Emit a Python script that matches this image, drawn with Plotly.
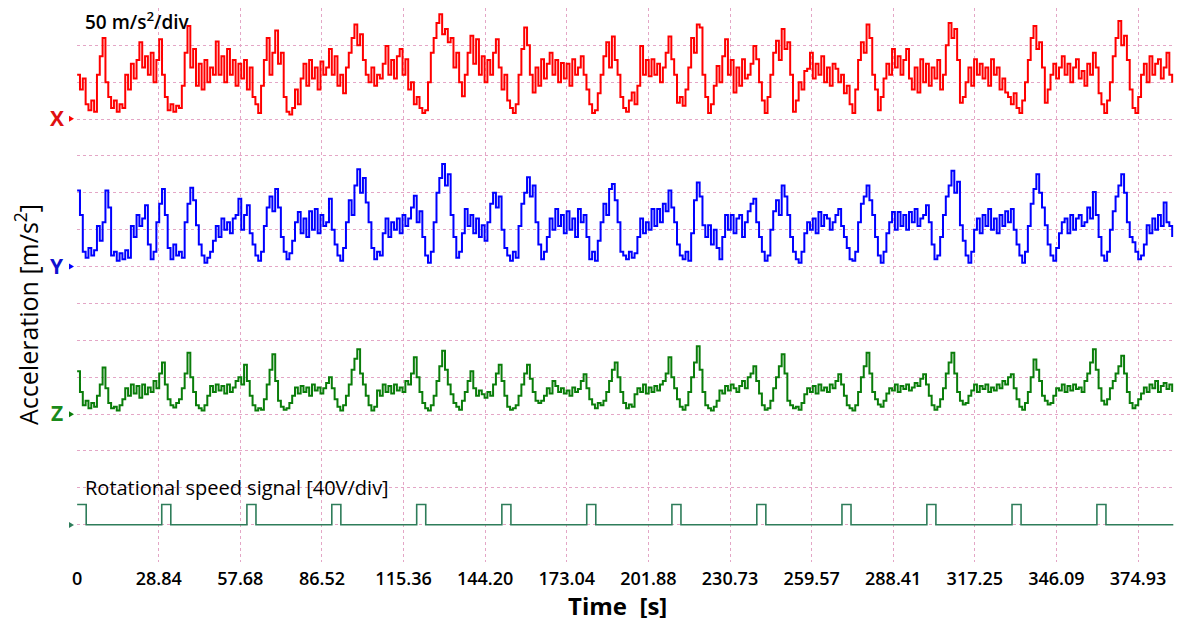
import numpy as np
import plotly.graph_objects as go

# ---------------- data ----------------
DT = 1.0  # sample spacing [s]

accel_x = [
    60, 40, 55, 20, 12, 25, 10, 60, 85, 110,
    50, 30, 15, 25, 10, 20, 15, 60, 40, 75,
    55, 80, 104, 70, 85, 60, 90, 50, 80, 108,
    60, 30, 12, 20, 10, 18, 15, 45, 90, 126,
    70, 95, 45, 75, 40, 80, 50, 70, 60, 105,
    60, 85, 50, 95, 60, 80, 45, 75, 55, 80,
    40, 70, 30, 20, 8, 45, 80, 110, 60, 90,
    120, 75, 90, 30, 10, 6, 15, 40, 20, 55,
    75, 45, 80, 55, 70, 40, 78, 60, 70, 95,
    60, 85, 45, 60, 35, 70, 90, 110, 128, 100,
    115, 80, 60, 50, 70, 45, 60, 55, 75, 99,
    60, 80, 55, 85, 95, 60, 81, 40, 50, 20,
    30, 15, 8, 12, 50, 90, 110, 130, 142, 115,
    122, 104, 110, 70, 90, 50, 31, 60, 90, 113,
    75, 108, 60, 85, 50, 80, 60, 90, 108, 70,
    40, 60, 25, 15, 8, 20, 60, 95, 124, 100,
    60, 36, 70, 45, 81, 55, 75, 90, 60, 80,
    50, 76, 55, 75, 45, 81, 60, 70, 85, 60,
    40, 20, 8, 12, 35, 60, 85, 104, 70, 112,
    80, 60, 30, 15, 10, 25, 36, 20, 45, 99,
    60, 80, 58, 81, 60, 75, 50, 70, 90, 112,
    81, 60, 22, 30, 18, 40, 70, 110, 90, 128,
    124, 60, 30, 8, 20, 45, 72, 50, 85, 108,
    60, 80, 36, 70, 45, 81, 55, 60, 75, 99,
    81, 50, 25, 8, 30, 60, 90, 106, 80, 122,
    95, 104, 60, 10, 25, 50, 40, 65, 68, 90,
    55, 75, 60, 85, 50, 70, 45, 75, 68, 50,
    60, 35, 45, 20, 8, 40, 80, 104, 90, 128,
    110, 60, 40, 12, 30, 55, 75, 60, 95, 70,
    85, 60, 80, 95, 55, 40, 70, 36, 81, 50,
    75, 45, 70, 55, 80, 40, 60, 100, 130, 110,
    122, 80, 22, 30, 50, 70, 45, 81, 60, 75,
    55, 70, 45, 81, 60, 70, 40, 55, 36, 30,
    20, 35, 15, 8, 25, 50, 80, 110, 126, 95,
    104, 70, 22, 40, 60, 75, 55, 70, 85, 60,
    75, 50, 70, 81, 55, 65, 45, 75, 60, 90,
    70, 35, 20, 8, 25, 50, 85, 110, 133, 100,
    113, 80, 40, 15, 8, 30, 60, 75, 50, 85,
    60, 75, 81, 55, 70, 90, 60, 49,
]

accel_y = [
    103, 70, 20, 12, 25, 15, 22, 55, 35, 60,
    103, 80, 15, 20, 8, 18, 10, 22, 12, 55,
    40, 70, 55, 65, 83, 30, 10, 20, 60, 85,
    105, 70, 25, 10, 30, 15, 20, 12, 60, 85,
    107, 90, 56, 30, 15, 5, 12, 20, 35, 55,
    40, 65, 50, 60, 45, 65, 70, 92, 50, 70,
    83, 45, 30, 15, 8, 20, 55, 80, 95, 75,
    105, 80, 40, 20, 10, 18, 35, 60, 74, 45,
    65, 40, 75, 50, 78, 45, 70, 55, 60, 92,
    50, 30, 15, 8, 25, 60, 90, 70, 110, 132,
    100, 120, 87, 60, 25, 10, 20, 15, 45, 65,
    40, 60, 50, 65, 45, 70, 55, 65, 80, 96,
    60, 75, 40, 15, 5, 20, 60, 100, 120, 139,
    110, 125, 70, 40, 12, 20, 45, 78, 55, 70,
    45, 65, 40, 56, 35, 60, 85, 100, 80, 95,
    50, 25, 15, 8, 20, 12, 55, 85, 100, 121,
    95, 110, 60, 30, 10, 20, 40, 65, 50, 78,
    55, 70, 45, 75, 50, 65, 40, 78, 60, 70,
    40, 10, 20, 8, 35, 60, 85, 70, 105, 112,
    90, 60, 20, 15, 10, 20, 12, 18, 40, 65,
    45, 60, 50, 78, 55, 78, 60, 85, 75, 103,
    80, 60, 30, 15, 10, 20, 8, 45, 90, 114,
    95, 56, 40, 56, 30, 50, 25, 10, 40, 70,
    50, 70, 45, 65, 70, 40, 60, 75, 85, 92,
    60, 40, 20, 8, 15, 50, 75, 90, 70, 110,
    95, 70, 40, 20, 10, 5, 20, 45, 60, 50,
    65, 45, 74, 55, 70, 65, 50, 60, 70, 78,
    55, 40, 25, 10, 8, 20, 60, 85, 95, 110,
    90, 70, 40, 15, 5, 20, 45, 60, 74, 50,
    74, 55, 70, 50, 74, 60, 78, 55, 65, 70,
    83, 60, 30, 10, 15, 40, 70, 95, 110, 130,
    100, 115, 56, 35, 15, 5, 20, 50, 65, 45,
    70, 55, 78, 50, 65, 45, 70, 55, 75, 60,
    78, 50, 30, 15, 5, 20, 55, 85, 105, 125,
    100, 80, 56, 30, 15, 8, 25, 45, 60, 65,
    45, 70, 50, 65, 70, 55, 60, 80, 65, 101,
    70, 40, 15, 8, 20, 50, 75, 95, 110, 125,
    100, 60, 40, 33, 20, 10, 15, 30, 56, 45,
    65, 50, 70, 55, 87, 60, 55, 40,
]

accel_z = [
    58, 30, 12, 18, 8, 15, 10, 25, 40, 63,
    35, 15, 8, 10, 5, 12, 20, 35, 25, 40,
    28, 38, 22, 40, 27, 36, 30, 45, 35, 55,
    70, 40, 20, 12, 9, 15, 20, 35, 55, 83,
    50, 30, 12, 8, 5, 12, 25, 38, 30, 40,
    32, 38, 28, 40, 30, 36, 45, 50, 40, 67,
    45, 25, 12, 5, 8, 6, 20, 40, 60, 81,
    45, 18, 10, 6, 8, 15, 25, 36, 28, 38,
    30, 36, 25, 40, 32, 36, 28, 35, 42, 50,
    35, 20, 10, 5, 12, 25, 40, 60, 75, 88,
    55, 40, 25, 12, 5, 10, 32, 25, 40, 30,
    38, 28, 40, 32, 36, 30, 45, 40, 55, 77,
    50, 30, 15, 8, 5, 12, 25, 45, 65, 86,
    60, 40, 27, 15, 10, 6, 18, 30, 45, 58,
    35, 25, 32, 27, 22, 30, 25, 40, 55, 67,
    45, 25, 10, 6, 8, 12, 25, 40, 55, 67,
    48, 30, 18, 15, 18, 25, 35, 28, 45, 38,
    30, 35, 28, 32, 25, 36, 30, 34, 45, 54,
    35, 20, 13, 8, 15, 12, 18, 30, 45, 60,
    70, 50, 30, 15, 8, 13, 10, 27, 35, 30,
    40, 28, 36, 30, 38, 32, 40, 45, 55, 77,
    50, 35, 20, 10, 6, 12, 30, 50, 70, 92,
    60, 30, 12, 8, 5, 10, 18, 32, 28, 38,
    32, 40, 35, 30, 38, 45, 35, 50, 55, 65,
    45, 28, 12, 6, 8, 18, 35, 50, 65, 81,
    55, 18, 12, 8, 10, 6, 15, 27, 35, 30,
    38, 28, 40, 32, 36, 30, 40, 35, 45, 54,
    40, 25, 12, 8, 5, 12, 30, 50, 65, 83,
    55, 30, 20, 13, 10, 18, 28, 35, 32, 40,
    30, 38, 34, 40, 32, 36, 42, 38, 48, 54,
    40, 25, 12, 6, 10, 20, 35, 55, 70, 83,
    55, 30, 18, 13, 15, 25, 32, 40, 30, 38,
    34, 40, 30, 36, 32, 40, 35, 45, 40, 50,
    54, 35, 20, 10, 6, 15, 30, 50, 74, 60,
    45, 25, 18, 13, 15, 25, 35, 32, 40, 30,
    38, 32, 40, 34, 36, 30, 45, 55, 70, 88,
    60, 35, 18, 13, 20, 35, 45, 55, 65, 79,
    55, 30, 15, 8, 12, 20, 28, 36, 30, 40,
    35, 45, 30, 38, 42, 34, 40, 30,
]

pulse_start = [0, 29.9, 60.0, 90.0, 120.0, 150.1, 180.1, 210.2, 240.2,
               270.3, 300.3, 330.4, 360.4]          # [s]
pulse_width = 3.2                                    # [s]
pulse_level = 22                                     # [V]
t_end = 387.4                                        # [s]

tick_vals = [0, 28.84, 57.68, 86.52, 115.36, 144.20, 173.04, 201.88,
             230.73, 259.57, 288.41, 317.25, 346.09, 374.93]
tick_text = ["0", "28.84", "57.68", "86.52", "115.36", "144.20", "173.04",
             "201.88", "230.73", "259.57", "288.41", "317.25", "346.09", "374.93"]

channel_names = ["X", "Y", "Z"]

# ---------------- styling / layout constants ----------------
ACC_PER_DIV = 50.0   # m/s^2 per division
V_PER_DIV = 40.0     # V per division
N_DIV = 15
base_div = {"X": 12, "Y": 8, "Z": 4, "R": 1}
colors = {"X": "#ff0000", "Y": "#0000ff", "Z": "#0a7d0a", "R": "#2e7d5a"}
label_colors = {"X": "#e01010", "Y": "#1010d0", "Z": "#1a8a1a"}
GRID = "#e4a6c6"

fig = go.Figure()

series = {"X": accel_x, "Y": accel_y, "Z": accel_z}
for name in channel_names:
    vals = np.asarray(series[name], dtype=float)
    t = np.arange(len(vals)) * DT
    fig.add_trace(go.Scatter(
        x=t, y=base_div[name] + vals / ACC_PER_DIV, mode="lines",
        line=dict(color=colors[name], width=2.0, shape="hv"),
        hoverinfo="skip", showlegend=False))

# rotational speed signal (step trace built from the pulse list)
px, py = [], []
for s in pulse_start:
    px += [s, s + pulse_width]
    py += [pulse_level, 0]
px.append(t_end)
py.append(0)
fig.add_trace(go.Scatter(
    x=px, y=[base_div["R"] + v / V_PER_DIV for v in py], mode="lines",
    line=dict(color=colors["R"], width=1.6, shape="hv"),
    hoverinfo="skip", showlegend=False))

# small baseline markers on the left (paper-referenced, pixel-sized)
shapes = []
for n, c in [("X", colors["X"]), ("Y", colors["Y"]), ("Z", colors["Z"]), ("R", colors["R"])]:
    shapes.append(dict(
        type="path", xref="paper", yref="paper",
        xsizemode="pixel", ysizemode="pixel",
        xanchor=0, yanchor=base_div[n] / N_DIV,
        path="M-8,-3 L-3,0 L-8,3 Z", fillcolor=c, line=dict(width=0)))

annotations = []
for name in channel_names:
    annotations.append(dict(
        x=0, y=base_div[name], xref="x", yref="y", text="<b>%s</b>" % name,
        showarrow=False, xanchor="center", yanchor="middle",
        xshift=-20, yshift=1,
        font=dict(family="Open Sans", size=21, color=label_colors[name])))

annotations.append(dict(
    x=0.0055, y=1.0, xref="paper", yref="paper", text="50 m/s<sup>2</sup>/div",
    showarrow=False, xanchor="left", yanchor="top", yshift=3,
    font=dict(family="Open Sans", size=19, color="black", weight=600)))
annotations.append(dict(
    x=0.0055, y=base_div["R"] + 1.0, xref="paper", yref="y",
    text="Rotational speed signal [40V/div]",
    showarrow=False, xanchor="left", yanchor="middle",
    font=dict(family="Open Sans", size=20, color="black")))
annotations.append(dict(
    x=0.492, y=-0.045, xref="paper", yref="paper", text="<b>Time  [s]</b>",
    showarrow=False, xanchor="center", yanchor="top",
    font=dict(family="Open Sans", size=24, color="black")))
annotations.append(dict(
    x=-0.0455, y=0.446, xref="paper", yref="paper",
    text="Acceleration [m/s<sup>2</sup>]", textangle=-90,
    showarrow=False, xanchor="center", yanchor="middle",
    font=dict(family="Open Sans", size=25, color="black")))

# page body has an 8 px margin, so the figure is sized to fill the window
fig.update_layout(
    width=1178, height=610,
    margin=dict(l=69, r=11, t=0, b=56),
    paper_bgcolor="white", plot_bgcolor="white",
    annotations=annotations, shapes=shapes,
    xaxis=dict(range=[-0.05, 388], tickvals=tick_vals, ticktext=tick_text,
               showgrid=True, gridcolor=GRID, griddash="dot", gridwidth=1,
               zeroline=False, showline=False, ticks="", ticklabelstandoff=4,
               tickfont=dict(family="Open Sans", size=18, color="black", weight=600)),
    yaxis=dict(range=[-0.01, N_DIV + 0.01], tick0=0, dtick=1,
               showgrid=True, gridcolor=GRID, griddash="dot", gridwidth=1,
               zeroline=False, showline=False, showticklabels=False, ticks=""),
)

fig.write_html("out.html")
